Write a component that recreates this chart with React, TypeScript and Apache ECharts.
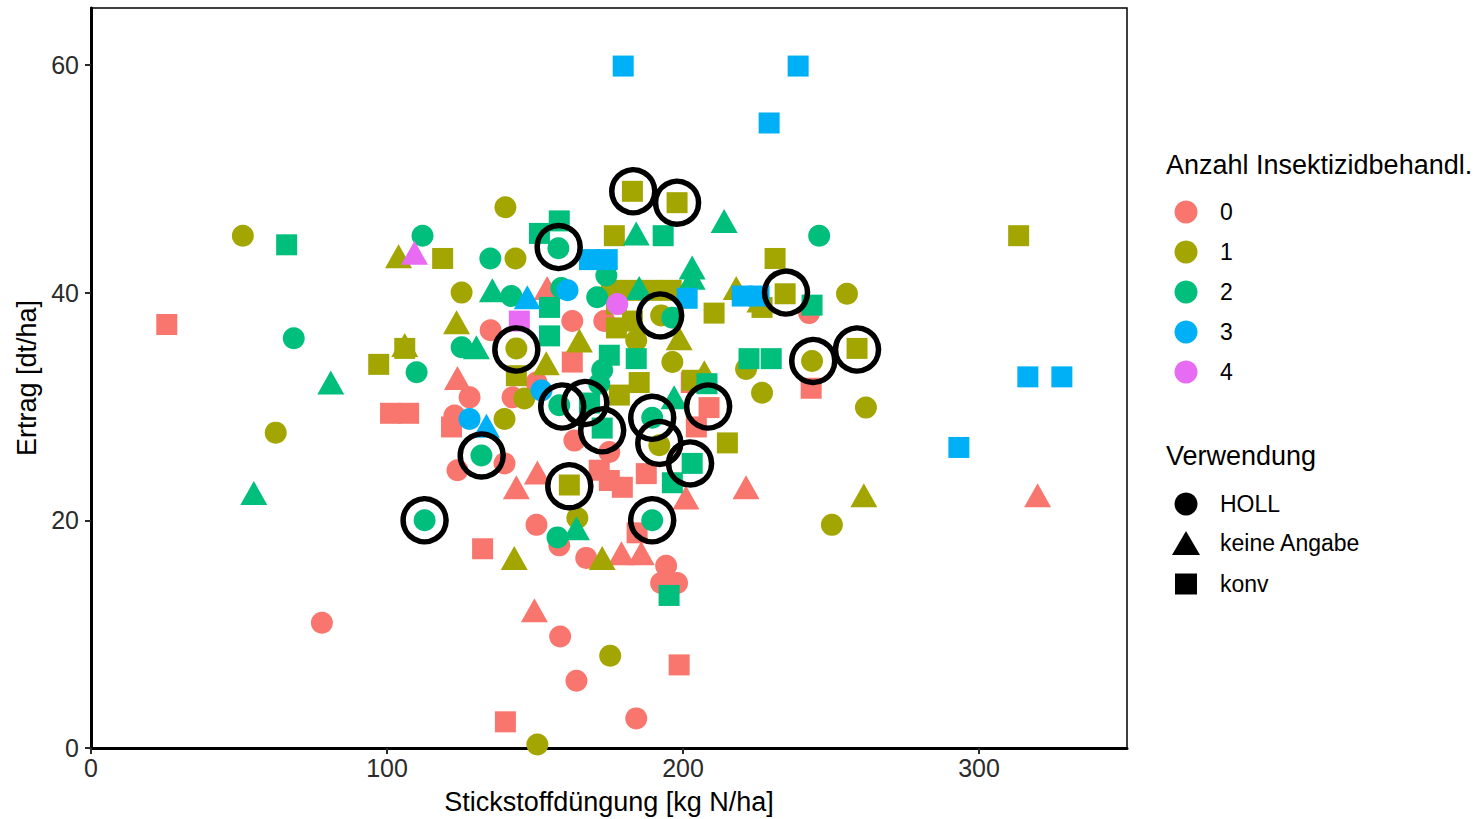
import React, { useEffect, useRef } from "react";
import * as echarts from "echarts";

// ---- data (x: Stickstoffdüngung kg N/ha, y: Ertrag dt/ha) ----
const insektizidLevels = ["0", "1", "2", "3", "4"];
const levelColors = ["#F8766D", "#A3A500", "#00BF7D", "#00B0F6", "#E76BF3"];
const verwendungLevels = ["HOLL", "keine Angabe", "konv"];

const c0Holl = [[78, 11], [158.5, 9.8], [164, 5.9], [184.2, 2.6], [194.3, 16], [192.6, 14.5], [198, 14.5], [150.5, 19.6], [158.2, 17.8], [167.3, 16.7], [135, 36.7], [162.6, 37.5], [173.4, 37.5], [150.5, 32.1], [127.9, 30.8], [142.4, 30.8], [123.8, 24.4], [139.7, 25], [163.3, 27], [175.1, 26], [242.6, 38.2], [122.8, 29.2]];
const c0Keine = [[123.8, 32.5], [143.7, 22.9], [150.8, 24.2], [149.8, 12.1], [179.2, 17.1], [185.9, 17.1], [201, 22], [221.3, 22.9], [319.8, 22.2], [154.1, 40.4]];
const c0Konv = [[25.6, 37.2], [101.2, 29.4], [107.3, 29.4], [121.8, 28.2], [132.3, 17.5], [140, 2.3], [198.7, 7.3], [162.6, 33.9], [208.8, 29.9], [202.8, 32.1], [243.3, 31.6], [175.1, 23.5], [179.5, 22.9], [187.6, 24.1], [171.7, 24.4], [184.5, 18.9], [204.5, 28.2]];

const c1Holl = [[51.3, 45], [62.4, 27.7], [140, 47.5], [143.4, 43], [125.2, 40], [143.7, 35.1], [146.4, 30.7], [139.7, 28.9], [150.8, 0.3], [175.4, 8.1], [164.3, 20.2], [192.6, 38], [184.2, 35.8], [196.4, 33.9], [192, 26.6], [221.3, 33.3], [226.7, 31.2], [243.6, 34], [255.4, 39.9], [261.8, 29.9], [250.3, 19.6]];
const c1Keine = [[103.9, 43.2], [106, 35.4], [123.5, 37.4], [153.8, 33.8], [165, 35.8], [143, 16.7], [172.7, 16.7], [198.7, 36], [207.2, 33], [218, 40.4], [261.1, 22.2], [226, 39.3]];
const c1Konv = [[118.8, 43], [97.2, 33.7], [106, 35.1], [143.7, 32.7], [182.9, 48.9], [198, 47.9], [176.8, 45], [231.1, 43], [210.5, 38.2], [226.7, 38.7], [234.5, 39.9], [258.8, 35.1], [313.4, 45], [215, 26.8], [161.6, 23.1], [178.5, 31], [185.2, 32.1], [175.8, 40.2], [182.5, 40.2], [189.3, 40.2], [196, 40.2], [177.5, 39], [177.5, 36.9], [182.9, 37.5], [203.1, 32.3]];

const c2Holl = [[112, 45], [68.5, 36], [110, 33], [134.9, 43], [142, 39.7], [158.9, 40.4], [174.1, 41.5], [171, 39.6], [125.2, 35.2], [157.9, 43.9], [158.2, 30.1], [131.9, 25.7], [189.6, 29], [189.6, 20], [112.7, 20], [157.6, 18.5], [172.7, 33.2], [171.7, 32], [246, 45], [196.4, 37.8]];
const c2Keine = [[55, 22.4], [81, 32.1], [135.6, 40.2], [130.2, 35.2], [184.2, 45.2], [213.9, 46.3], [185.2, 40.4], [203.1, 42.2], [203.1, 41.3], [197, 30.8], [164, 19.3]];
const c2Konv = [[66.1, 44.2], [158.2, 46.3], [151.5, 45.2], [193.3, 45], [154.9, 38.7], [154.9, 36.2], [175.1, 34.5], [184.2, 34.2], [222.3, 34.2], [229.8, 34.2], [243.6, 38.9], [168.4, 30.3], [172.7, 28.1], [203.1, 25], [196.4, 23.3], [195.3, 13.4], [208.1, 32]];

const c3Holl = [[161, 40.2], [152.2, 31.4], [127.9, 28.9]];
const c3Keine = [[147.4, 39.6], [133.6, 28.3]];
const c3Konv = [[179.8, 59.9], [238.9, 59.9], [229.1, 54.9], [316.5, 32.6], [328, 32.6], [293.2, 26.4], [168.4, 42.9], [174.4, 42.9], [220, 39.7], [225.7, 39.7], [201.4, 39.5]];

const c4Holl = [[177.8, 39]];
const c4Keine = [[109.3, 43.5]];
const c4Konv = [[144.7, 37.5]];

const highlighted = [[183.2, 48.9], [198, 47.9], [158, 44], [234.8, 40], [192.3, 38], [143.7, 35], [244, 34], [258.8, 35], [159.2, 30], [167, 30.3], [172.7, 27.9], [189.6, 29], [192, 26.8], [208.5, 30], [202.4, 25], [132, 25.7], [161.6, 23], [189.6, 20], [112.7, 20]];

const xTicks = [0, 100, 200, 300];
const yTicks = [0, 20, 40, 60];

const FONT = "'Liberation Sans', Arial, Helvetica, sans-serif";

const groups = [
  [c0Holl, c0Keine, c0Konv],
  [c1Holl, c1Keine, c1Konv],
  [c2Holl, c2Keine, c2Konv],
  [c3Holl, c3Keine, c3Konv],
  [c4Holl, c4Keine, c4Konv],
];

const shapeSymbols: any[] = ["circle", "triangle", "rect"];
const shapeSizes: any[] = [22, [27, 24], 21];

export default function App() {
  const ref = useRef<HTMLDivElement>(null);
  useEffect(() => {
    if (!ref.current) return;
    const chart = echarts.init(ref.current, null, { renderer: "svg" });

    const series: any[] = [];
    groups.forEach((g, ci) => {
      g.forEach((data, si) => {
        series.push({
          type: "scatter",
          name: insektizidLevels[ci] + " " + verwendungLevels[si],
          data,
          symbol: shapeSymbols[si],
          symbolSize: shapeSizes[si],
          itemStyle: { color: levelColors[ci], opacity: 1 },
          silent: true,
        });
      });
    });
    series.push({
      type: "scatter",
      name: "highlight",
      data: highlighted,
      symbol: "circle",
      symbolSize: 43,
      itemStyle: { color: "rgba(0,0,0,0)", borderColor: "#000", borderWidth: 5.5, opacity: 1 },
      silent: true,
      z: 5,
    });

    const legendItems: any[] = [];
    legendItems.push({
      type: "text",
      x: 1166,
      y: 165,
      style: { text: "Anzahl Insektizidbehandl.", fontSize: 27, fontFamily: FONT, fill: "#000", verticalAlign: "middle", align: "left" },
    });
    insektizidLevels.forEach((lv, i) => {
      const cy = 212 + 40 * i;
      legendItems.push({ type: "circle", shape: { cx: 1186, cy, r: 11.5 }, style: { fill: levelColors[i] } });
      legendItems.push({
        type: "text",
        x: 1220,
        y: cy,
        style: { text: lv, fontSize: 23, fontFamily: FONT, fill: "#000", verticalAlign: "middle", align: "left" },
      });
    });
    legendItems.push({
      type: "text",
      x: 1166,
      y: 456,
      style: { text: "Verwendung", fontSize: 27, fontFamily: FONT, fill: "#000", verticalAlign: "middle", align: "left" },
    });
    const shapeYs = [504, 543, 584];
    legendItems.push({ type: "circle", shape: { cx: 1186, cy: shapeYs[0], r: 11.5 }, style: { fill: "#000" } });
    legendItems.push({
      type: "polygon",
      shape: { points: [[1172, shapeYs[1] + 12], [1200, shapeYs[1] + 12], [1186, shapeYs[1] - 12]] },
      style: { fill: "#000" },
    });
    legendItems.push({ type: "rect", shape: { x: 1175, y: shapeYs[2] - 10.5, width: 22, height: 21 }, style: { fill: "#000" } });
    verwendungLevels.forEach((lv, i) => {
      legendItems.push({
        type: "text",
        x: 1220,
        y: shapeYs[i],
        style: { text: lv, fontSize: 23, fontFamily: FONT, fill: "#000", verticalAlign: "middle", align: "left" },
      });
    });

    chart.setOption({
      animation: false,
      backgroundColor: "#fff",
      textStyle: { fontFamily: FONT },
      grid: {
        left: 91, right: 357, top: 8, bottom: 71,
        containLabel: false, outerBoundsMode: "none",
        show: true, borderColor: "#000", borderWidth: 1.5, backgroundColor: "#fff",
      },
      xAxis: {
        type: "value",
        min: 0,
        max: 350,
        interval: 100,
        name: "Stickstoffdüngung [kg N/ha]",
        nameLocation: "middle",
        nameGap: 40,
        nameTextStyle: { fontSize: 27, color: "#000", fontFamily: FONT },
        axisLine: { show: true, onZero: false, lineStyle: { color: "#000", width: 3 } },
        axisTick: { show: true, length: 6, lineStyle: { color: "#2b2b2b", width: 2 }, customValues: xTicks },
        axisLabel: { fontSize: 25, color: "#2b2b2b", margin: 7, fontFamily: FONT, customValues: xTicks },
        splitLine: { show: false },
      },
      yAxis: {
        type: "value",
        min: 0,
        max: 65,
        interval: 20,
        name: "Ertrag [dt/ha]",
        nameLocation: "middle",
        nameGap: 50,
        nameTextStyle: { fontSize: 27, color: "#000", fontFamily: FONT },
        axisLine: { show: true, onZero: false, lineStyle: { color: "#000", width: 3 } },
        axisTick: { show: true, length: 6, lineStyle: { color: "#2b2b2b", width: 2 }, customValues: yTicks },
        axisLabel: { fontSize: 25, color: "#2b2b2b", margin: 12, fontFamily: FONT, customValues: yTicks },
        splitLine: { show: false },
      },
      graphic: legendItems,
      series,
    });
    return () => chart.dispose();
  }, []);
  return <div ref={ref} style={{ position: "absolute", left: 0, top: 0, width: 1484, height: 819 }} />;
}
